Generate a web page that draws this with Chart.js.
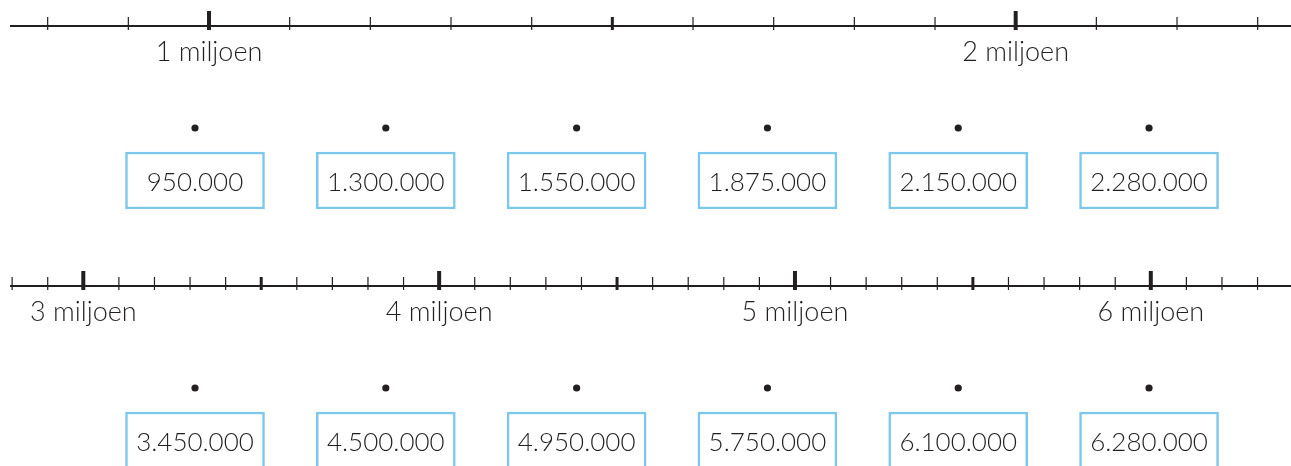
<!DOCTYPE html>
<html lang="nl">
<head>
<meta charset="utf-8">
<script src="https://cdn.jsdelivr.net/npm/chart.js@4.4.1/dist/chart.umd.min.js"></script>
<style>
  html, body { margin: 0; padding: 0; background: #fff; }
  canvas { display: block; }
</style>
</head>
<body>
<canvas id="numberLines" width="1291" height="466"></canvas>
<script>
// waarden op de getallenlijnen
const slots = [0, 1, 2, 3, 4, 5];
const topValues = [950000, 1300000, 1550000, 1875000, 2150000, 2280000];
const bottomValues = [3450000, 4500000, 4950000, 5750000, 6100000, 6280000];
const topMillions = [1, 2];
const bottomMillions = [3, 4, 5, 6];

const INK = '#231f20';
const BOX_BLUE = '#7cc7ec';
const FONT = 'Lato, "Open Sans", sans-serif';

// rows (y in pixels from the top, y scale is reversed 0..466)
const rows = [
  { scaleId: 'xTop', lineY: 26, dotY: 128, boxTop: 152, values: topValues, millions: topMillions },
  { scaleId: 'xBottom', lineY: 286, dotY: 388, boxTop: 412, values: bottomValues, millions: bottomMillions }
];
const BOX_HEIGHT = 57;

function formatNl(value) {
  return String(value).replace(/\B(?=(\d{3})+(?!\d))/g, '.');
}

const numberLinePlugin = {
  id: 'numberLines',
  beforeDatasetsDraw(chart) {
    const { ctx, chartArea, scales } = chart;
    ctx.save();
    rows.forEach((row) => {
      const scale = scales[row.scaleId];
      const y = scales.y.getPixelForValue(row.lineY);
      ctx.strokeStyle = INK;
      ctx.lineWidth = 2.2;
      ctx.beginPath();
      ctx.moveTo(chartArea.left, y);
      ctx.lineTo(chartArea.right, y);
      ctx.stroke();

      const first = Math.ceil(scale.min / 100000);
      const last = Math.floor(scale.max / 100000);
      for (let k = first; k <= last; k++) {
        const x = scale.getPixelForValue(k * 100000);
        let up = 9, width = 1.2;
        if (k % 10 === 0) { up = 15; width = 4; }
        else if (k % 5 === 0) { width = 3; }
        ctx.lineWidth = width;
        ctx.beginPath();
        ctx.moveTo(x, y - up);
        ctx.lineTo(x, y + 4);
        ctx.stroke();
      }

      ctx.fillStyle = INK;
      ctx.font = `300 27px ${FONT}`;
      ctx.textAlign = 'center';
      ctx.textBaseline = 'alphabetic';
      row.millions.forEach((m) => {
        ctx.fillText(`${m} miljoen`, scale.getPixelForValue(m * 1000000), y + 35);
      });
    });
    ctx.restore();
  },
  afterDatasetsDraw(chart) {
    const { ctx } = chart;
    ctx.save();
    ctx.fillStyle = INK;
    ctx.font = `300 26px ${FONT}`;
    ctx.textAlign = 'center';
    ctx.textBaseline = 'alphabetic';
    rows.forEach((row, r) => {
      const meta = chart.getDatasetMeta(2 + r);
      meta.data.forEach((bar, i) => {
        const { x } = bar.getProps(['x'], true);
        const top = chart.scales.y.getPixelForValue(row.boxTop);
        ctx.fillText(formatNl(row.values[i]), x, top + 39);
      });
    });
    ctx.restore();
  }
};

const dotDataset = (row) => ({
  type: 'scatter',
  data: slots.map((s) => ({ x: s, y: row.dotY })),
  xAxisID: 'slot',
  yAxisID: 'y',
  pointRadius: 3.6,
  pointHoverRadius: 3.6,
  backgroundColor: INK,
  borderWidth: 0
});

const boxDataset = (row) => ({
  type: 'bar',
  data: slots.map((s) => ({ x: s, y: [row.boxTop, row.boxTop + BOX_HEIGHT] })),
  xAxisID: 'slot',
  yAxisID: 'y',
  grouped: false,
  barThickness: 139,
  backgroundColor: '#ffffff',
  borderColor: BOX_BLUE,
  borderWidth: 2.5,
  borderSkipped: false
});

new Chart(document.getElementById('numberLines'), {
  type: 'scatter',
  data: {
    datasets: [dotDataset(rows[0]), dotDataset(rows[1]), boxDataset(rows[0]), boxDataset(rows[1])]
  },
  options: {
    responsive: false,
    animation: false,
    events: [],
    layout: { autoPadding: false, padding: { left: 10, right: 0, top: 0, bottom: 0 } },
    plugins: { legend: { display: false }, tooltip: { enabled: false } },
    scales: {
      slot: { type: 'linear', axis: 'x', display: false, offset: false, min: -0.9696, max: 5.744 },
      xTop: { type: 'linear', axis: 'x', display: false, offset: false, min: 753300, max: 2341300 },
      xBottom: { type: 'linear', axis: 'x', display: false, offset: false, min: 2794000, max: 6394000 },
      y: { type: 'linear', display: false, reverse: true, min: 0, max: 466 }
    }
  },
  plugins: [numberLinePlugin]
});
</script>
</body>
</html>
